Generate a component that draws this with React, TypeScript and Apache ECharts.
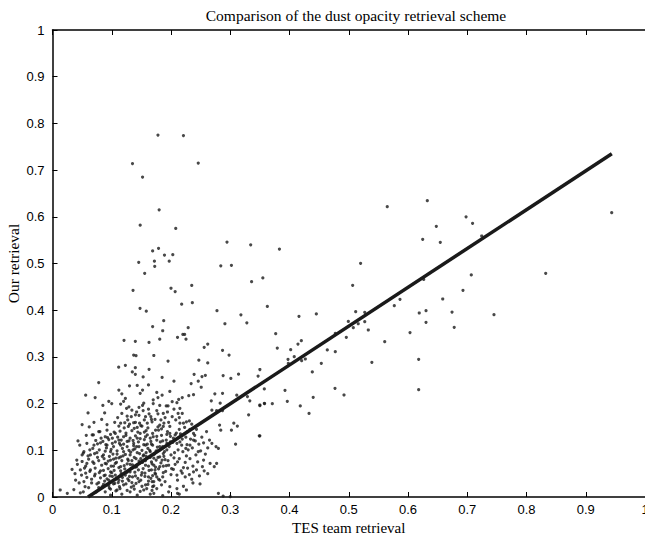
import React, { useEffect, useRef } from "react";
import * as echarts from "echarts";

const xTicks = [0, 0.1, 0.2, 0.3, 0.4, 0.5, 0.6, 0.7, 0.8, 0.9, 1];
const yTicks = [0, 0.1, 0.2, 0.3, 0.4, 0.5, 0.6, 0.7, 0.8, 0.9, 1];

// fitted line endpoints [x, y]
const fitLine = [
  [0.06, 0],
  [0.944, 0.735],
];

// scattered points above the cluster
const upperPoints = [
  [0.178, 0.775], [0.221, 0.774], [0.135, 0.714], [0.246, 0.715], [0.152, 0.685],
  [0.18, 0.615], [0.148, 0.582], [0.208, 0.575], [0.2945, 0.546], [0.3345, 0.54],
  [0.383, 0.531], [0.169, 0.527], [0.179, 0.5325], [0.189, 0.518], [0.203, 0.519],
  [0.172, 0.505], [0.197, 0.505], [0.1725, 0.494], [0.284, 0.495], [0.302, 0.496],
  [0.355, 0.469], [0.336, 0.461], [0.235, 0.453], [0.2, 0.447], [0.207, 0.44],
  [0.218, 0.413], [0.236, 0.416], [0.2776, 0.399], [0.3626, 0.408], [0.318, 0.39],
  [0.328, 0.373], [0.291, 0.371], [0.1877, 0.3775], [0.169, 0.365], [0.186, 0.356],
  [0.229, 0.3625], [0.22, 0.348], [0.223, 0.348], [0.211, 0.342], [0.2253, 0.338],
  [0.181, 0.338], [0.262, 0.3276], [0.256, 0.3205], [0.287, 0.314], [0.298, 0.304],
  [0.171, 0.303], [0.247, 0.293], [0.195, 0.291], [0.262, 0.287], [0.35, 0.273],
  [0.185, 0.256], [0.239, 0.2627], [0.2523, 0.258], [0.258, 0.2606], [0.288, 0.26],
  [0.301, 0.254], [0.314, 0.263], [0.347, 0.259],
  [0.1455, 0.5025], [0.1556, 0.479], [0.1359, 0.4426], [0.1477, 0.404], [0.1583, 0.398],
  [0.1207, 0.3355], [0.1398, 0.3334], [0.1629, 0.331], [0.137, 0.304], [0.141, 0.3026],
  [0.1117, 0.278], [0.123, 0.282], [0.1398, 0.277], [0.163, 0.2734], [0.1347, 0.2677],
  [0.1398, 0.2627], [0.153, 0.257],
];

// points on the right half
const rightPoints = [
  [0.6326, 0.6345], [0.565, 0.6217], [0.6478, 0.5796], [0.6248, 0.5518], [0.6545, 0.5454],
  [0.52, 0.5004], [0.5066, 0.4533], [0.6265, 0.466], [0.5865, 0.4233], [0.6586, 0.424],
  [0.416, 0.387], [0.4453, 0.392], [0.5117, 0.3968], [0.527, 0.3955], [0.5769, 0.4097],
  [0.619, 0.394], [0.6304, 0.399], [0.6743, 0.396], [0.678, 0.3633], [0.6304, 0.374],
  [0.6034, 0.352], [0.5607, 0.3326], [0.4993, 0.376], [0.527, 0.3754], [0.5077, 0.3626],
  [0.516, 0.371], [0.533, 0.3576], [0.4959, 0.342], [0.4773, 0.3505], [0.3767, 0.3497],
  [0.3794, 0.319], [0.402, 0.3155], [0.4143, 0.3276], [0.42, 0.3347], [0.408, 0.3004],
  [0.3975, 0.2948], [0.398, 0.2863], [0.4205, 0.2919], [0.4267, 0.2955], [0.4638, 0.3148],
  [0.4773, 0.3112], [0.4537, 0.2863], [0.4385, 0.2677], [0.539, 0.2884], [0.618, 0.2948],
  [0.618, 0.2298], [0.3575, 0.2313], [0.3924, 0.2284], [0.4768, 0.2327], [0.492, 0.2184],
  [0.44, 0.2135], [0.3963, 0.205], [0.3575, 0.2006], [0.371, 0.1998], [0.35, 0.1955],
  [0.4182, 0.1949], [0.433, 0.179], [0.35, 0.131],
  [0.9438, 0.6088], [0.698, 0.6], [0.709, 0.586], [0.7244, 0.5589], [0.7068, 0.4754],
  [0.8324, 0.479], [0.6928, 0.4426], [0.7451, 0.3904],
];

// dense cluster, middle part
const clusterMid = [
  [0.205, 0.248], [0.234, 0.243], [0.246, 0.248], [0.251, 0.235], [0.176, 0.224],
  [0.17, 0.208], [0.178, 0.213], [0.185, 0.218], [0.198, 0.226], [0.202, 0.204],
  [0.21, 0.202], [0.213, 0.209], [0.219, 0.213], [0.23, 0.217], [0.238, 0.219],
  [0.268, 0.206], [0.274, 0.221], [0.287, 0.222], [0.283, 0.201], [0.269, 0.186],
  [0.277, 0.185], [0.287, 0.185], [0.311, 0.218], [0.329, 0.215], [0.333, 0.206],
  [0.35, 0.197], [0.358, 0.2], [0.192, 0.195], [0.187, 0.179], [0.194, 0.182],
  [0.215, 0.19], [0.219, 0.179], [0.212, 0.179], [0.176, 0.185], [0.167, 0.166],
  [0.181, 0.154], [0.188, 0.158], [0.187, 0.151], [0.179, 0.143], [0.169, 0.136],
  [0.198, 0.151], [0.215, 0.158], [0.221, 0.158], [0.226, 0.161], [0.231, 0.163],
  [0.235, 0.156], [0.223, 0.149], [0.232, 0.145], [0.238, 0.136], [0.243, 0.145],
  [0.214, 0.145], [0.216, 0.135], [0.207, 0.133], [0.204, 0.126], [0.198, 0.136],
  [0.199, 0.118], [0.193, 0.115], [0.176, 0.122], [0.169, 0.111], [0.181, 0.108],
  [0.193, 0.101], [0.187, 0.093], [0.21, 0.115], [0.218, 0.111], [0.212, 0.101],
  [0.22, 0.097], [0.225, 0.104], [0.229, 0.101], [0.232, 0.111], [0.238, 0.122],
  [0.241, 0.12], [0.246, 0.097], [0.25, 0.099], [0.255, 0.116], [0.265, 0.122],
  [0.282, 0.154], [0.284, 0.143], [0.302, 0.143], [0.306, 0.158], [0.312, 0.152],
  [0.331, 0.176], [0.349, 0.131], [0.309, 0.113], [0.269, 0.115], [0.276, 0.108],
  [0.28, 0.104], [0.266, 0.072], [0.273, 0.065], [0.277, 0.072], [0.255, 0.079],
  [0.256, 0.056], [0.237, 0.066], [0.238, 0.054], [0.235, 0.038], [0.221, 0.063],
  [0.219, 0.051], [0.224, 0.043], [0.21, 0.047], [0.211, 0.036], [0.204, 0.059],
  [0.196, 0.068], [0.187, 0.066], [0.181, 0.086], [0.175, 0.079], [0.171, 0.068],
  [0.167, 0.058], [0.173, 0.051], [0.176, 0.043], [0.186, 0.043], [0.181, 0.036],
  [0.171, 0.033], [0.169, 0.022], [0.176, 0.018], [0.184, 0.026], [0.19, 0.033],
  [0.198, 0.022], [0.21, 0.018], [0.221, 0.023], [0.196, 0.011], [0.171, 0.008],
  [0.186, 0.003], [0.211, 0.008], [0.226, 0.015], [0.249, 0.028], [0.28, 0.008],
  [0.288, 0.002], [0.3, 0.001], [0.237, 0.03], [0.214, 0.006],
];

// dense cluster, left part
const clusterLeft = [
  [0.078, 0.245], [0.056, 0.218], [0.072, 0.213], [0.095, 0.205], [0.112, 0.229],
  [0.13, 0.238], [0.143, 0.239], [0.162, 0.24], [0.117, 0.221], [0.123, 0.211],
  [0.148, 0.222], [0.152, 0.229], [0.083, 0.166], [0.115, 0.199], [0.129, 0.193],
  [0.134, 0.186], [0.146, 0.192], [0.154, 0.201], [0.162, 0.188], [0.117, 0.179],
  [0.126, 0.173], [0.14, 0.176], [0.157, 0.172], [0.122, 0.159], [0.13, 0.156],
  [0.137, 0.159], [0.147, 0.158], [0.151, 0.152], [0.128, 0.151], [0.143, 0.149],
  [0.168, 0.161], [0.174, 0.143], [0.067, 0.133], [0.078, 0.14], [0.089, 0.129],
  [0.101, 0.126], [0.106, 0.136], [0.112, 0.122], [0.12, 0.129], [0.131, 0.126],
  [0.14, 0.131], [0.148, 0.136], [0.157, 0.129], [0.165, 0.126], [0.058, 0.115],
  [0.07, 0.111], [0.081, 0.116], [0.092, 0.111], [0.103, 0.108], [0.115, 0.111],
  [0.126, 0.108], [0.137, 0.115], [0.146, 0.108], [0.157, 0.111], [0.053, 0.097],
  [0.064, 0.09], [0.075, 0.095], [0.086, 0.09], [0.098, 0.097], [0.109, 0.092],
  [0.12, 0.097], [0.131, 0.09], [0.143, 0.095], [0.154, 0.09], [0.165, 0.097],
  [0.033, 0.059], [0.041, 0.079], [0.05, 0.076], [0.056, 0.066], [0.061, 0.081],
  [0.07, 0.072], [0.078, 0.078], [0.089, 0.072], [0.098, 0.079], [0.106, 0.072],
  [0.117, 0.078], [0.126, 0.071], [0.134, 0.078], [0.147, 0.072], [0.157, 0.078],
  [0.168, 0.071], [0.047, 0.058], [0.056, 0.051], [0.064, 0.058], [0.072, 0.049],
  [0.081, 0.056], [0.089, 0.047], [0.098, 0.054], [0.106, 0.047], [0.115, 0.056],
  [0.123, 0.047], [0.131, 0.054], [0.14, 0.045], [0.151, 0.052], [0.162, 0.043],
  [0.174, 0.049], [0.039, 0.036], [0.053, 0.033], [0.066, 0.038], [0.078, 0.031],
  [0.084, 0.022], [0.095, 0.036], [0.103, 0.028], [0.112, 0.036], [0.12, 0.026],
  [0.129, 0.035], [0.137, 0.024], [0.146, 0.033], [0.157, 0.026], [0.168, 0.033],
  [0.013, 0.015], [0.025, 0.008], [0.036, 0.016], [0.047, 0.009], [0.089, 0.011],
  [0.098, 0.004], [0.109, 0.015], [0.117, 0.006], [0.131, 0.011], [0.143, 0.004],
  [0.154, 0.015], [0.165, 0.006],
  [0.046, 0.111], [0.052, 0.094], [0.069, 0.133], [0.08, 0.14], [0.063, 0.101],
  [0.058, 0.072], [0.049, 0.047], [0.055, 0.022], [0.052, 0.011],
];

// dense cluster, core
const clusterCore = [
  [0.072, 0.062], [0.083, 0.068], [0.094, 0.061], [0.103, 0.066], [0.112, 0.063],
  [0.121, 0.067], [0.133, 0.062], [0.142, 0.065], [0.153, 0.061], [0.162, 0.066],
  [0.076, 0.085], [0.087, 0.082], [0.096, 0.087], [0.107, 0.083], [0.115, 0.086],
  [0.127, 0.081], [0.138, 0.085], [0.149, 0.082], [0.158, 0.087], [0.171, 0.083],
  [0.068, 0.104], [0.079, 0.101], [0.091, 0.105], [0.099, 0.102], [0.109, 0.099],
  [0.118, 0.104], [0.129, 0.1], [0.139, 0.103], [0.151, 0.1], [0.161, 0.104],
  [0.073, 0.121], [0.085, 0.119], [0.095, 0.123], [0.106, 0.118], [0.116, 0.122],
  [0.126, 0.119], [0.136, 0.121], [0.145, 0.118], [0.155, 0.123], [0.166, 0.119],
  [0.081, 0.041], [0.092, 0.039], [0.101, 0.044], [0.109, 0.04], [0.118, 0.042],
  [0.127, 0.039], [0.135, 0.043], [0.144, 0.04], [0.156, 0.044], [0.166, 0.04],
  [0.086, 0.027], [0.095, 0.024], [0.105, 0.029], [0.113, 0.022], [0.124, 0.028],
  [0.133, 0.021], [0.141, 0.029], [0.151, 0.023], [0.161, 0.027], [0.171, 0.024],
  [0.098, 0.017], [0.107, 0.013], [0.114, 0.018], [0.126, 0.014], [0.138, 0.017],
  [0.148, 0.012], [0.159, 0.018], [0.168, 0.014],
  [0.104, 0.139], [0.114, 0.141], [0.124, 0.137], [0.134, 0.142], [0.144, 0.139],
  [0.158, 0.142], [0.092, 0.143], [0.112, 0.152], [0.121, 0.148], [0.138, 0.147],
  [0.149, 0.153], [0.161, 0.148], [0.178, 0.15], [0.155, 0.165], [0.163, 0.178],
  [0.142, 0.182], [0.152, 0.196], [0.125, 0.19], [0.12, 0.205], [0.17, 0.2],
  [0.181, 0.196], [0.18, 0.1], [0.186, 0.108], [0.192, 0.122], [0.199, 0.13],
  [0.184, 0.132], [0.176, 0.13], [0.188, 0.087], [0.195, 0.078], [0.2, 0.09],
  [0.205, 0.084], [0.183, 0.073], [0.191, 0.055], [0.2, 0.048], [0.179, 0.06],
  [0.207, 0.07], [0.214, 0.082], [0.226, 0.088], [0.224, 0.074], [0.232, 0.082],
  [0.242, 0.09], [0.245, 0.075], [0.061, 0.02], [0.066, 0.03], [0.071, 0.045],
  [0.075, 0.028], [0.058, 0.042], [0.063, 0.055], [0.068, 0.075], [0.06, 0.088],
  [0.054, 0.062], [0.045, 0.03], [0.038, 0.05], [0.042, 0.07], [0.05, 0.09],
  [0.057, 0.132], [0.062, 0.15], [0.07, 0.16], [0.05, 0.155], [0.043, 0.12],
  [0.06, 0.18], [0.088, 0.18], [0.1, 0.2], [0.092, 0.155], [0.085, 0.196],
];

// dense cluster, extra fill
const clusterExtra = [
  [0.074, 0.011], [0.079, 0.052], [0.088, 0.034], [0.091, 0.071], [0.097, 0.045],
  [0.102, 0.092], [0.104, 0.057], [0.108, 0.074], [0.111, 0.031], [0.113, 0.115],
  [0.116, 0.05], [0.119, 0.088], [0.122, 0.06], [0.124, 0.132], [0.128, 0.078],
  [0.13, 0.044], [0.132, 0.096], [0.135, 0.069], [0.137, 0.11], [0.139, 0.053],
  [0.141, 0.082], [0.143, 0.126], [0.145, 0.058], [0.147, 0.093], [0.149, 0.036],
  [0.152, 0.074], [0.154, 0.112], [0.156, 0.051], [0.158, 0.095], [0.16, 0.133],
  [0.163, 0.057], [0.165, 0.085], [0.167, 0.113], [0.169, 0.046], [0.172, 0.092],
  [0.174, 0.064], [0.177, 0.107], [0.179, 0.038], [0.182, 0.118], [0.185, 0.079],
  [0.187, 0.052], [0.189, 0.097], [0.192, 0.067], [0.194, 0.14], [0.197, 0.108],
  [0.201, 0.061], [0.203, 0.117], [0.206, 0.095], [0.209, 0.137], [0.211, 0.075],
  [0.086, 0.057], [0.089, 0.098], [0.093, 0.127], [0.096, 0.019], [0.099, 0.066],
  [0.101, 0.115], [0.103, 0.081], [0.106, 0.037], [0.11, 0.128], [0.112, 0.084],
  [0.115, 0.065], [0.118, 0.034], [0.12, 0.113], [0.123, 0.091], [0.126, 0.053],
  [0.129, 0.12], [0.131, 0.07], [0.134, 0.031], [0.136, 0.101], [0.14, 0.064],
  [0.142, 0.108], [0.146, 0.077], [0.148, 0.125], [0.15, 0.047], [0.153, 0.088],
  [0.155, 0.139], [0.157, 0.068], [0.16, 0.113], [0.162, 0.034], [0.164, 0.1],
  [0.167, 0.075], [0.17, 0.129], [0.173, 0.058], [0.175, 0.099], [0.178, 0.085],
  [0.181, 0.065], [0.184, 0.146], [0.186, 0.12], [0.19, 0.08], [0.193, 0.134],
  [0.071, 0.093], [0.076, 0.114], [0.078, 0.02], [0.082, 0.126], [0.084, 0.087],
  [0.087, 0.046], [0.09, 0.112], [0.094, 0.077], [0.098, 0.134], [0.1, 0.052],
  [0.105, 0.16], [0.11, 0.17], [0.115, 0.158], [0.127, 0.165], [0.133, 0.172],
  [0.14, 0.16], [0.146, 0.175], [0.153, 0.185], [0.16, 0.158], [0.166, 0.172],
  [0.173, 0.166], [0.178, 0.178], [0.183, 0.165], [0.19, 0.17], [0.196, 0.16],
  [0.202, 0.172], [0.208, 0.165], [0.214, 0.17], [0.195, 0.195], [0.205, 0.188],
  [0.225, 0.128], [0.228, 0.14], [0.233, 0.124], [0.236, 0.105], [0.24, 0.132],
  [0.247, 0.113], [0.252, 0.128], [0.258, 0.092], [0.262, 0.105], [0.26, 0.14],
  [0.215, 0.118], [0.219, 0.124], [0.227, 0.112], [0.217, 0.056], [0.228, 0.062],
  [0.231, 0.048], [0.243, 0.058], [0.248, 0.045], [0.253, 0.065], [0.262, 0.05],
];

const allPoints = [
  ...upperPoints,
  ...rightPoints,
  ...clusterMid,
  ...clusterLeft,
  ...clusterCore,
  ...clusterExtra,
];

export default function App() {
  const ref = useRef<HTMLDivElement>(null);
  useEffect(() => {
    if (!ref.current) return;
    const chart = echarts.init(ref.current, null, { renderer: "svg" });
    const axisCommon = {
      type: "value",
      min: 0,
      max: 1,
      interval: 0.1,
      splitLine: { show: false },
      axisLine: { show: true, onZero: false, lineStyle: { color: "#000", width: 1.5 } },
      axisTick: { show: true, inside: true, length: 5, lineStyle: { color: "#000", width: 1 } },
    };
    const fmt = (ticks: number[]) => (v: number) => {
      const idx = ticks.findIndex((t) => Math.abs(t - v) < 1e-6);
      return idx >= 0 ? String(ticks[idx]) : "";
    };
    const labelStyle = {
      color: "#000",
      fontFamily: "Liberation Sans",
      fontSize: 13,
    };
    chart.setOption({
      animation: false,
      backgroundColor: "#fff",
      title: {
        text: "Comparison of the dust opacity retrieval scheme",
        left: 351,
        top: 2,
        textAlign: "center",
        textStyle: { fontFamily: "Liberation Serif", fontSize: 15.5, fontWeight: "normal", color: "#000" },
      },
      grid: { left: 52.5, top: 30, right: 0, bottom: 38, containLabel: false, outerBoundsMode: "none" },
      xAxis: [
        {
          ...axisCommon,
          position: "bottom",
          name: "TES team retrieval",
          nameLocation: "middle",
          nameGap: 18,
          nameTextStyle: { fontFamily: "Liberation Serif", fontSize: 15, lineHeight: 15, color: "#000" },
          axisLabel: { ...labelStyle, margin: 6, showMaxLabel: true, formatter: fmt(xTicks) },
        },
        {
          ...axisCommon,
          position: "top",
          axisLabel: { show: false },
        },
      ],
      yAxis: [
        {
          ...axisCommon,
          position: "left",
          name: "Our retrieval",
          nameLocation: "middle",
          nameGap: 31,
          nameMoveOverlap: false,
          nameTextStyle: { fontFamily: "Liberation Serif", fontSize: 15.5, color: "#000" },
          axisLabel: { ...labelStyle, margin: 8, formatter: fmt(yTicks) },
        },
      ],
      series: [
        {
          type: "scatter",
          data: allPoints,
          symbol: "circle",
          symbolSize: 3.2,
          itemStyle: { color: "#1a1a1a" },
          silent: true,
        },
        {
          type: "line",
          data: fitLine,
          showSymbol: false,
          symbol: "none",
          lineStyle: { color: "#1a1a1a", width: 3.5 },
          silent: true,
        },
      ],
    });
    return () => chart.dispose();
  }, []);
  return (
    <div
      ref={ref}
      style={{ position: "absolute", left: 0, top: 0, width: 645, height: 535 }}
    />
  );
}
